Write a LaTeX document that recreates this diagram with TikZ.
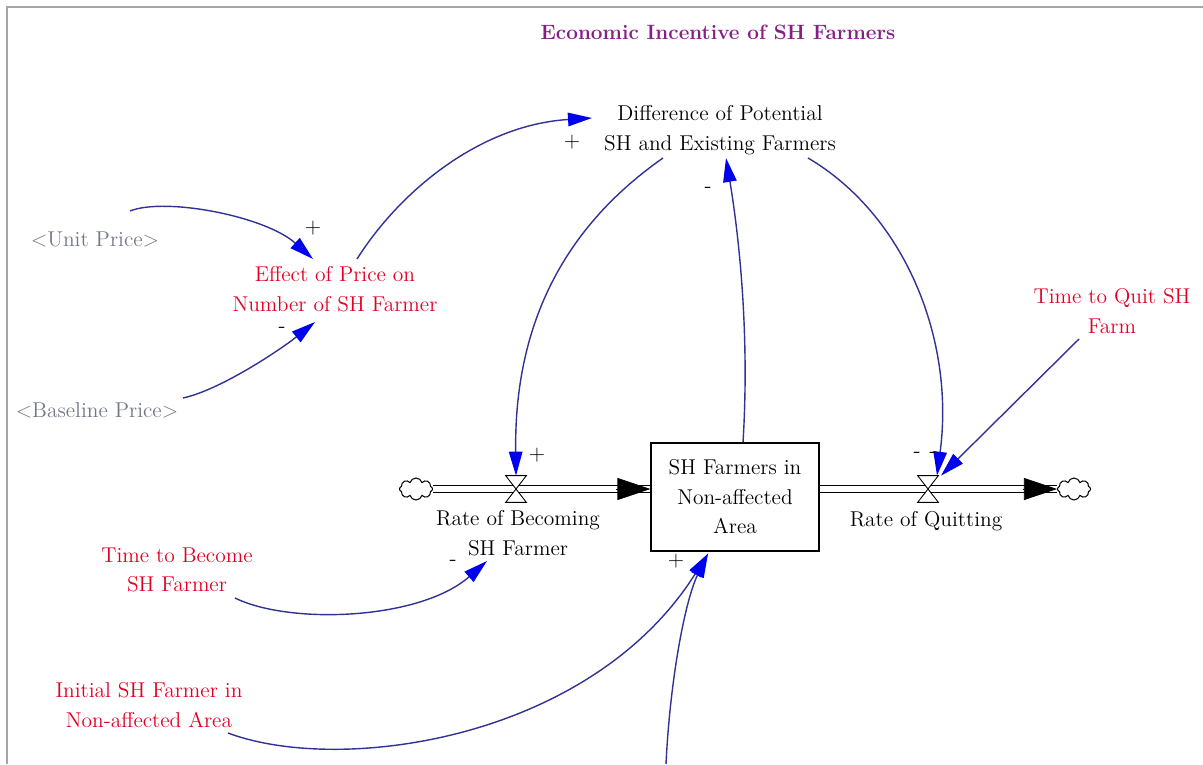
\documentclass[tikz,border=0pt]{standalone}
\usetikzlibrary{arrows.meta,calc,shapes.symbols}
\definecolor{auxred}{RGB}{225,0,35}
\definecolor{shadowgray}{RGB}{115,118,135}
\definecolor{titlepurple}{RGB}{135,30,135}
\definecolor{linkblue}{RGB}{50,50,150}
\definecolor{tipblue}{RGB}{0,0,240}
\definecolor{framegray}{RGB}{165,165,165}
\newcommand{\diagfont}{\fontsize{12.2}{16.8}\selectfont}

\begin{document}
\begin{tikzpicture}[x=0.02cm, y=-0.02cm,
    var/.style={font=\diagfont, align=center, inner sep=1pt},
    aux/.style={var, text=auxred},
    shadow/.style={var, text=shadowgray},
    level/.style={var, draw, line width=0.7pt, minimum width=3.36cm, minimum height=2.16cm},
    sign/.style={font=\diagfont, inner sep=0pt},
    valve/.style={minimum width=0.4cm, minimum height=0.52cm, inner sep=0pt},
    sink/.style={cloud, draw, cloud puffs=8, aspect=1.5, minimum width=0.66cm, minimum height=0.44cm, inner sep=0pt, line width=0.6pt},
    pipe/.style={double, double distance=0.11cm, line width=0.7pt},
    flowtip/.style={-{Triangle[length=0.66cm, width=0.44cm]}},
    link/.style={linkblue, line width=0.8pt, -{Triangle[length=0.48cm, width=0.27cm, color=tipblue]}}]
  \useasboundingbox (0,0) rectangle (1203,764);
  \draw[framegray, line width=1.2pt] (7,764) -- (7,7) -- (1203,7);

  \node[var, font=\fontsize{11.8}{16}\selectfont\bfseries, text=titlepurple] (t0) at (718,32) {Economic Incentive of SH Farmers};
  \node[var] (dif) at (720,130) {Difference of Potential\\SH and Existing Farmers};
  \node[shadow] (up) at (95,239) {<Unit Price>};
  \node[shadow] (bp) at (97,410) {<Baseline Price>};
  \node[aux] (eff) at (335,289) {Effect of Price on\\Number of SH Farmer};
  \node[aux] (tq) at (1112,311) {Time to Quit SH\\Farm};
  \node[aux] (tb) at (177,570) {Time to Become\\SH Farmer};
  \node[aux] (ini) at (149,705) {Initial SH Farmer in\\Non-affected Area};
  \node[level] (st) at (735,497) {SH Farmers in\\Non-affected\\Area};
  \node[sink] (c1) at (416,489) {};
  \node[sink] (c2) at (1074,489) {};
  \node[valve] (vb) at (516,489) {};
  \node[valve] (vq) at (928,489) {};
  \node[var] (rb) at (518,533) {Rate of Becoming\\SH Farmer};
  \node[var] (rq) at (926,521) {Rate of Quitting};
  \coordinate (b0) at (666,764);

  \draw[pipe] (c1.east) -- (c1.east -| st.west);
  \draw[flowtip] ($(c1.east -| st.west)+(-34,0)$) -- (c1.east -| st.west);
  \draw[pipe] (c2.west -| st.east) -- (c2.west);
  \draw[flowtip] ($(c2.west)+(-34,0)$) -- (c2.west);
  \draw[fill=white, line width=0.5pt] (vb.north west) -- (vb.north east) -- (vb.south west) -- (vb.south east) -- cycle;
  \draw[fill=white, line width=0.5pt] (vq.north west) -- (vq.north east) -- (vq.south west) -- (vq.south east) -- cycle;

  \draw[link] ($(up)+(35,-28)$) .. controls +(35,-14) and +(-48,-43) .. ($(eff)+(-22,-30)$);
  \draw[link] ($(bp)+(86,-12)$) .. controls +(37,-8) and +(-35,28) .. ($(eff)+(-20,33)$);
  \draw[link] ($(eff)+(22,-30)$) .. controls +(43,-68) and +(-112,7) .. ($(dif)+(-128,-12)$);
  \draw[link] ($(dif)+(-57,28)$) .. controls +(-103,72) and +(-2,-146) .. (vb.north);
  \draw[link] ($(st.north)+(8,0)$) .. controls +(7,-113) and +(12,72) .. ($(dif)+(6,28)$);
  \draw[link] ($(dif)+(88,28)$) .. controls +(97,57) and +(18,-136) .. ($(vq.north)+(9,0)$);
  \draw[link] ($(tq)+(-33,28)$) -- ($(vq.north)+(13,0)$);
  \draw[link] ($(tb)+(58,28)$) .. controls +(55,27) and +(-67,59) .. ($(rb)+(-31,28)$);
  \draw[link] ($(ini)+(79,28)$) .. controls +(112,42) and +(-118,187) .. ($(st.south)+(-27,2)$);
  \draw[link] (b0) .. controls +(4,-84) and +(-23,47) .. ($(st.south)+(-27,2)$);

  \node[sign] (s1) at (313,228) {+};
  \node[sign] (s2) at (282,330) {-};
  \node[sign] (s3) at (572,142) {+};
  \node[sign] (s4) at (537,455) {+};
  \node[sign] (s5) at (708,190) {-};
  \node[sign] (s6) at (917,455) {-};
  \node[sign] (s7) at (933,455) {-};
  \node[sign] (s8) at (453,563) {-};
  \node[sign] (s9) at (676,561) {+};
\end{tikzpicture}
\end{document}
